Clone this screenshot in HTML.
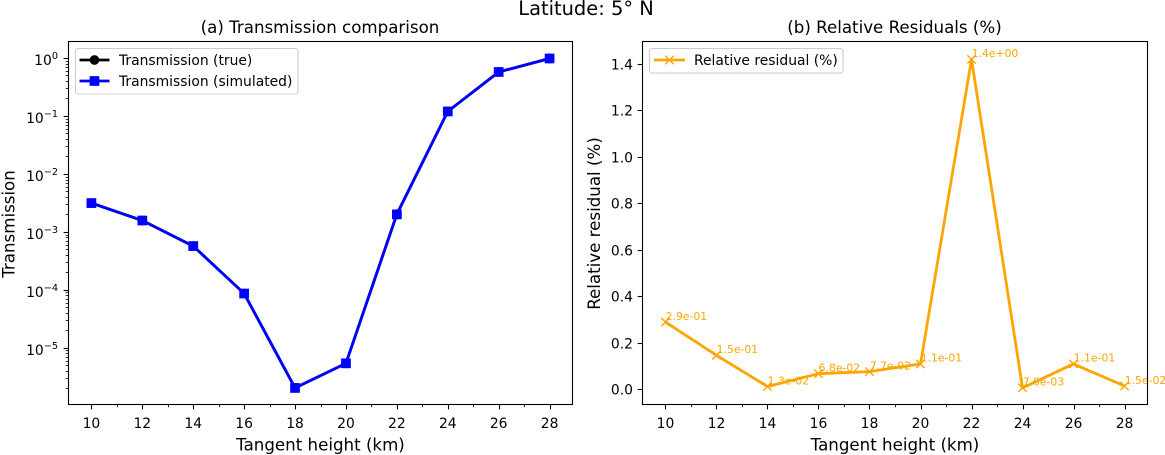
<!DOCTYPE html>
<html>
<head>
<meta charset="utf-8">
<title>Latitude: 5° N</title>
<style>
html,body{margin:0;padding:0;background:#fff;}
body{width:1165px;height:455px;overflow:hidden;}
svg{display:block;}
text{font-family:"DejaVu Sans","Liberation Sans",sans-serif;fill:#000;}
</style>
</head>
<body>
<svg id="fig" xmlns="http://www.w3.org/2000/svg" width="1165" height="455" viewBox="0 0 1165 455"></svg>
<script>
const heights = [10, 12, 14, 16, 18, 20, 22, 24, 26, 28];
const transmissionTrue = [3.2e-3, 1.6e-3, 5.8e-4, 8.8e-5, 2.07e-6, 5.5e-6, 2.07e-3, 0.122, 0.585, 1.0];
const transmissionSim = [3.2e-3, 1.6e-3, 5.8e-4, 8.8e-5, 2.07e-6, 5.5e-6, 2.04e-3, 0.122, 0.585, 1.0];
const residuals = [0.29, 0.147, 0.013, 0.068, 0.077, 0.11, 1.42, 0.007, 0.11, 0.015];
const residualLabels = ["2.9e-01", "1.5e-01", "1.3e-02", "6.8e-02", "7.7e-02", "1.1e-01", "1.4e+00", "7.0e-03", "1.1e-01", "1.5e-02"];
const xTicks = [10, 12, 14, 16, 18, 20, 22, 24, 26, 28];
const xMinorTicks = [11, 13, 15, 17, 19, 21, 23, 25, 27];
const logTickExponents = [0, -1, -2, -3, -4, -5];
const residualTicks = [0, 0.2, 0.4, 0.6, 0.8, 1.0, 1.2, 1.4];

const svg = document.getElementById('fig');
const NS = 'http://www.w3.org/2000/svg';
function mk(parent, tag, attrs, txt) {
  const e = document.createElementNS(NS, tag);
  for (const k in attrs) e.setAttribute(k, attrs[k]);
  if (txt !== undefined) e.textContent = txt;
  parent.appendChild(e);
  return e;
}

const boxA = {l: 68.5, r: 572.5, t: 41.5, b: 404.5};
const boxB = {l: 642.5, r: 1147.5, t: 41.5, b: 404.5};
const xDomain = [9.1, 28.9];
const logDomain = [-5.97, 0.293];
const residualDomain = [-0.0645, 1.497];
const xA = v => boxA.l + (v - xDomain[0]) / (xDomain[1] - xDomain[0]) * (boxA.r - boxA.l);
const xB = v => boxB.l + (v - xDomain[0]) / (xDomain[1] - xDomain[0]) * (boxB.r - boxB.l);
const yA = v => boxA.b - (Math.log10(v) - logDomain[0]) / (logDomain[1] - logDomain[0]) * (boxA.b - boxA.t);
const yB = v => boxB.b - (v - residualDomain[0]) / (residualDomain[1] - residualDomain[0]) * (boxB.b - boxB.t);
const TICK = '#000';
const LW = 2.78;
const MARK = 9.7;

const suptitle = mk(svg, 'text', {x: 586, y: 15, 'text-anchor': 'middle', 'font-size': 19.44}, 'Latitude: 5° N');



function drawXAxis(g, box, xf) {
  xTicks.forEach(t => {
    const x = Math.round(xf(t)) + 0.5;
    const tk = mk(g, 'line', {x1: x, x2: x, y1: box.b, y2: box.b + 4.86, stroke: TICK, 'stroke-width': 1.1});
    
    
    const lb = mk(g, 'text', {x: xf(t), y: box.b + 23.5, 'text-anchor': 'middle', 'font-size': 13.89}, String(t));
    
    
  });
  xMinorTicks.forEach(t => {
    const x = Math.round(xf(t)) + 0.5;
    const tk = mk(g, 'line', {x1: x, x2: x, y1: box.b, y2: box.b + 2.78, stroke: TICK, 'stroke-width': 0.83});
    
    
  });
  const cx = (box.l + box.r) / 2;
  const xl = mk(g, 'text', {x: cx, y: 450.5, 'text-anchor': 'middle', 'font-size': 16.67}, 'Tangent height (km)');
  
  
}
function drawFrame(g, box) {
  const fr = mk(g, 'rect', {x: box.l, y: box.t, width: box.r - box.l, height: box.b - box.t, fill: 'none', stroke: '#000', 'stroke-width': 1.1});
  
  
}

/* Panel A */
const gA = mk(svg, 'g', {});


const titleA = mk(gA, 'text', {x: 320, y: 33, 'text-anchor': 'middle', 'font-size': 16.67}, '(a) Transmission comparison');


const ylA = mk(gA, 'text', {x: 14.5, y: 224, 'text-anchor': 'middle', 'font-size': 16.67, transform: 'rotate(-90 14.5 224)'}, 'Transmission');


drawXAxis(gA, boxA, xA);
logTickExponents.forEach(ex => {
  const y = Math.floor(yA(Math.pow(10, ex))) + 0.5;
  const tk = mk(gA, 'line', {x1: boxA.l - 4.86, x2: boxA.l, y1: y, y2: y, stroke: TICK, 'stroke-width': 1.1});
  
  
  const lb = mk(gA, 'text', {x: 58, y: y + 6.5, 'text-anchor': 'end', 'font-size': 13.89});
  
  
  mk(lb, 'tspan', {}, '10');
  mk(lb, 'tspan', {dy: -6, 'font-size': 9.7}, ex === 0 ? '0' : '\u2212' + Math.abs(ex));
});
for (let ex = -6; ex <= 0; ex++) {
  for (let m = 2; m <= 9; m++) {
    const v = m * Math.pow(10, ex);
    const ly = Math.log10(v);
    if (ly < logDomain[0] || ly > logDomain[1]) continue;
    const y = Math.floor(yA(v)) + 0.5;
    const tk = mk(gA, 'line', {x1: boxA.l - 2.78, x2: boxA.l, y1: y, y2: y, stroke: TICK, 'stroke-width': 0.83});
    
    
  }
}
const truePts = heights.map((h, i) => xA(h) + ',' + yA(transmissionTrue[i])).join(' ');
const trueLine = mk(gA, 'polyline', {points: truePts, fill: 'none', stroke: '#000', 'stroke-width': LW, 'stroke-linejoin': 'round'});


heights.forEach((h, i) => {
  const c = mk(gA, 'circle', {cx: xA(h), cy: yA(transmissionTrue[i]), r: MARK / 2, fill: '#000'});
  
  
});
const simPts = heights.map((h, i) => xA(h) + ',' + yA(transmissionSim[i])).join(' ');
const simLine = mk(gA, 'polyline', {points: simPts, fill: 'none', stroke: '#0000ff', 'stroke-width': LW, 'stroke-linejoin': 'round'});


heights.forEach((h, i) => {
  const s = mk(gA, 'rect', {x: xA(h) - MARK / 2, y: yA(transmissionSim[i]) - MARK / 2, width: MARK, height: MARK, fill: '#0000ff'});
  
  
});
drawFrame(gA, boxA);
const legA = mk(gA, 'g', {});


const legABox = mk(legA, 'rect', {x: 75.5, y: 48.5, width: 222.5, height: 45.5, rx: 2.5, fill: '#fff', 'fill-opacity': 0.8, stroke: '#ccc', 'stroke-width': 1.1});


const la1 = mk(legA, 'line', {x1: 79.5, x2: 109.5, y1: 60, y2: 60, stroke: '#000', 'stroke-width': LW});


const la1m = mk(legA, 'circle', {cx: 94.5, cy: 60, r: MARK / 2, fill: '#000'});


const la1t = mk(legA, 'text', {x: 119, y: 65, 'font-size': 13.89}, 'Transmission (true)');


const la2 = mk(legA, 'line', {x1: 79.5, x2: 109.5, y1: 81, y2: 81, stroke: '#0000ff', 'stroke-width': LW});


const la2m = mk(legA, 'rect', {x: 94.5 - MARK / 2, y: 81 - MARK / 2, width: MARK, height: MARK, fill: '#0000ff'});


const la2t = mk(legA, 'text', {x: 119, y: 86, 'font-size': 13.89}, 'Transmission (simulated)');



/* Panel B */
const gB = mk(svg, 'g', {});


const titleB = mk(gB, 'text', {x: 894.5, y: 33, 'text-anchor': 'middle', 'font-size': 16.67}, '(b) Relative Residuals (%)');


const ylB = mk(gB, 'text', {x: 600, y: 223.5, 'text-anchor': 'middle', 'font-size': 16.67, transform: 'rotate(-90 600 223.5)'}, 'Relative residual (%)');


drawXAxis(gB, boxB, xB);
residualTicks.forEach(t => {
  const y = Math.floor(yB(t)) + 0.5;
  const tk = mk(gB, 'line', {x1: boxB.l - 4.86, x2: boxB.l, y1: y, y2: y, stroke: TICK, 'stroke-width': 1.1});
  
  
  const lb = mk(gB, 'text', {x: 633, y: y + 5, 'text-anchor': 'end', 'font-size': 13.89}, t.toFixed(1));
  
  
});
const resPts = heights.map((h, i) => xB(h) + ',' + yB(residuals[i])).join(' ');
const resLine = mk(gB, 'polyline', {points: resPts, fill: 'none', stroke: '#ffa500', 'stroke-width': LW, 'stroke-linejoin': 'round'});


heights.forEach((h, i) => {
  const x = xB(h), y = yB(residuals[i]), r = 4.17;
  const mark = mk(gB, 'path', {d: `M${x - r} ${y - r}L${x + r} ${y + r}M${x - r} ${y + r}L${x + r} ${y - r}`, stroke: '#ffa500', 'stroke-width': 1.39, fill: 'none'});
  
  
  const lab = mk(gB, 'text', {x: x + 0.2, y: y - 2.2, 'font-size': 10.8, style: 'fill:#ffa500'}, residualLabels[i]);
  
  
});
drawFrame(gB, boxB);
const legB = mk(gB, 'g', {});


const legBBox = mk(legB, 'rect', {x: 649.5, y: 48.5, width: 193.5, height: 24.5, rx: 2.5, fill: '#fff', 'fill-opacity': 0.8, stroke: '#ccc', 'stroke-width': 1.1});


const lb1 = mk(legB, 'line', {x1: 654, x2: 685, y1: 60, y2: 60, stroke: '#ffa500', 'stroke-width': LW});


const lb1m = mk(legB, 'path', {d: 'M665.3 55.8L673.7 64.2M665.3 64.2L673.7 55.8', stroke: '#ffa500', 'stroke-width': 1.39, fill: 'none'});


const lb1t = mk(legB, 'text', {x: 694, y: 65, 'font-size': 13.89}, 'Relative residual (%)');


</script>
</body>
</html>
